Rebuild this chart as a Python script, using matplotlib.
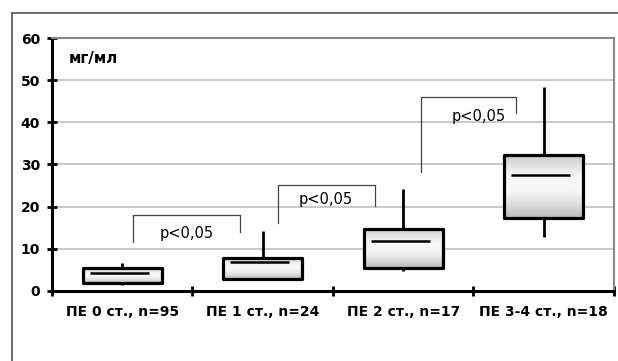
import numpy as np
import matplotlib.pyplot as plt
from matplotlib.patches import Rectangle

plt.rcParams['font.family'] = ['DejaVu Sans']

# data
groups = ["ПЕ 0 ст., n=95", "ПЕ 1 ст., n=24", "ПЕ 2 ст., n=17", "ПЕ 3-4 ст., n=18"]
whisk_lo = [1.4, 2.6, 4.7, 12.9]
q1 = [1.9, 2.8, 5.4, 17.4]
med = [4.3, 6.8, 11.8, 27.5]
q3 = [5.45, 7.9, 14.7, 32.2]
whisk_hi = [6.6, 14.2, 24.3, 48.4]

# significance brackets: x left, x right, top, left foot, right foot, label
br_x0 = [0.08, 1.11, 2.13]
br_x1 = [0.84, 1.80, 2.80]
br_top = [18.0, 25.1, 46.0]
br_foot0 = [11.6, 16.2, 28.2]
br_foot1 = [14.0, 20.1, 42.2]
br_label = ["p<0,05", "p<0,05", "p<0,05"]
lab_x = [0.46, 1.45, 2.54]
lab_y = [13.6, 21.8, 41.3]

fig = plt.figure(figsize=(6.18, 3.61), dpi=100)
ax = fig.add_axes([0.0841, 0.194, 0.9094, 0.7007])

# outer frame lines
fig.add_artist(plt.Line2D([12/618, 12/618], [0, 1 - 13/361], color="#555555", lw=1.2))
fig.add_artist(plt.Line2D([12/618, 1], [1 - 13/361, 1 - 13/361], color="#555555", lw=1.2))

ax.set_xlim(-0.5, 3.5)
ax.set_ylim(0, 60)
ax.set_yticks(range(0, 61, 10))
ax.yaxis.grid(True, color="#c0c0c0", lw=1.2)
ax.set_axisbelow(True)

# shading of the boxes: grey top, light middle, grey bottom
t = np.linspace(0, 1, 200)
grad = np.where(t < 0.45, 0.78 + 0.19 * np.sin(t / 0.45 * np.pi / 2),
                0.72 + 0.25 * np.cos((t - 0.45) / 0.55 * np.pi / 2)).reshape(-1, 1)
bw = 0.56
mw = 0.42
for i in range(len(groups)):
    ax.vlines(i, whisk_lo[i], q1[i], color="black", lw=2, zorder=2)
    ax.vlines(i, q3[i], whisk_hi[i], color="black", lw=2, zorder=2)
    rect = Rectangle((i - bw / 2, q1[i]), bw, q3[i] - q1[i], facecolor="none",
                     edgecolor="black", lw=2.3, joinstyle="round", zorder=4)
    ax.add_patch(rect)
    im = ax.imshow(grad, cmap="gray", vmin=0, vmax=1, aspect="auto",
                   extent=(i - bw / 2, i + bw / 2, q1[i], q3[i]), origin="upper",
                   interpolation="bilinear", zorder=3)
    im.set_clip_path(rect)
    ax.hlines(med[i], i - mw / 2 - 0.02, i + mw / 2 - 0.02, color="black", lw=1.8, zorder=5)

for k in range(len(br_x0)):
    ax.plot([br_x0[k], br_x0[k], br_x1[k], br_x1[k]],
            [br_foot0[k], br_top[k], br_top[k], br_foot1[k]],
            color="#444444", lw=0.9, zorder=2)
    ax.text(lab_x[k], lab_y[k], br_label[k], ha="center", va="center", fontsize=10.5)

ax.text(-0.38, 55.2, "мг/мл", ha="left", va="center", fontsize=11, fontweight="bold")

ax.set_xticks(np.arange(-0.5, 3.6, 1))
ax.set_xticklabels([])
ax.set_xticks(range(len(groups)), minor=True)
ax.set_xticklabels(groups, minor=True, fontsize=10, fontweight="bold")
ax.tick_params(axis="x", which="minor", length=0, pad=10)
ax.tick_params(axis="x", which="major", direction="inout", length=7, width=2)
ax.tick_params(axis="y", direction="inout", length=7, width=2, labelsize=10, pad=5)
for lab in ax.get_yticklabels():
    lab.set_fontweight("bold")

for s in ["left", "bottom"]:
    ax.spines[s].set_linewidth(2.2)
    ax.spines[s].set_color("black")
for s in ["top", "right"]:
    ax.spines[s].set_linewidth(1.5)
    ax.spines[s].set_color("#888888")

fig.savefig("out.png", dpi=100)
